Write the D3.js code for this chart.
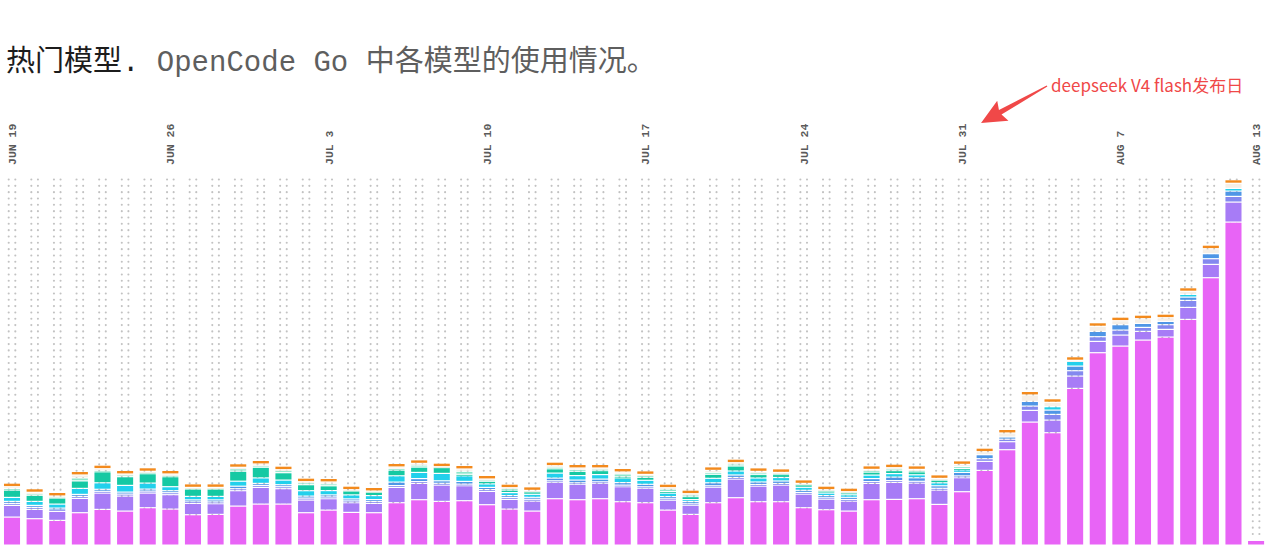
<!DOCTYPE html>
<html>
<head>
<meta charset="utf-8">
<script src="https://cdn.jsdelivr.net/npm/d3@7"></script>
<style>
  html, body { margin: 0; padding: 0; background: #fff; }
  svg { display: block; }
</style>
</head>
<body>
<svg id="chart" width="1280" height="558"></svg>
<script>
// ---------------- DATA ----------------
const dates = [
  "06-19","06-20","06-21","06-22","06-23","06-24","06-25","06-26","06-27","06-28","06-29","06-30",
  "07-01","07-02","07-03","07-04","07-05","07-06","07-07","07-08","07-09","07-10","07-11","07-12",
  "07-13","07-14","07-15","07-16","07-17","07-18","07-19","07-20","07-21","07-22","07-23","07-24",
  "07-25","07-26","07-27","07-28","07-29","07-30","07-31",
  "08-01","08-02","08-03","08-04","08-05","08-06","08-07","08-08","08-09","08-10","08-11","08-12","08-13"
];

const tickDates  = ["06-19","06-26","07-03","07-10","07-17","07-24","07-31","08-07","08-13"];
const tickLabels = ["JUN 19","JUN 26","JUL 3","JUL 10","JUL 17","JUL 24","JUL 31","AUG 7","AUG 13"];

// series values, bottom to top of each stack
const model1 = [26.8,25.2,23.5,31.2,34.5,32.8,36.2,34.8,29.2,29.5,37.8,39.8,39.8,31.2,33.8,31.5,31.2,41.2,44.2,42.5,43.2,39.2,34.8,32.8,45.2,44.2,45.2,42.2,41.2,33.8,29.5,41.2,46.2,42.2,42.2,36.2,34.2,32.8,44.2,44.5,45.2,39.5,52.2,73.5,94.2,121.8,111.2,155.5,191.2,197.8,203.8,206.8,224.5,266.2,321.8,3.5];
const model2 = [11.7,9.3,9,14.3,16.3,15,14.6,14.4,11.3,10.7,15.4,16.7,15.4,12.6,11.4,9.7,9.3,15.3,16.3,16.3,15,13.3,9.7,10,16.3,15.3,15.3,15,14.3,9.7,9,15.3,18.6,15.6,16.6,13.6,10.3,10,16.3,17,15.6,14.3,14,9,8,11.7,12.6,12.3,11.3,11,8.7,7.7,12,13.3,20,0];
const model3 = [2,2,1.8,2,1.8,2,2,2,1.8,1.8,2,2,2,2,1.8,1.8,1.8,1.8,1.8,1.8,1.6,1.8,1.8,1.8,1.6,1.6,1.6,1.6,1.6,1.6,1.6,1.6,1.6,1.6,1.6,1.6,1.6,1.6,1.8,1.8,1.8,1.8,1.8,2.7,2.5,4.3,5.7,5.4,4.7,5,4,4.7,7,5.7,5.7,0];
const model4 = [2,2,1.5,2,2,2,2,2,1.7,2,2.5,2,2,2,2,2,2,3.5,3,2.5,2.7,2.2,2,2,2.7,2.7,2.7,2.5,2.5,2.2,2.2,3,2.5,2.5,2.5,2.2,2.2,2.2,3,3.5,3.5,2.5,3.5,4,2.2,4.7,4.3,4.6,5.3,5.4,4,3.3,3.3,5,5.3,0];
const model5 = [4,4,4,6,6.5,6.7,6,4,3.5,3.5,5,5.5,4.6,5.4,4.3,4,4,6.3,6.2,7.4,5.6,3.5,3,3,5,4.5,4.5,4.5,4,3.5,2,4.5,4,4,3.5,3,2.5,2.5,3.5,3.5,3,3,2.5,0,0,0,3.4,4.7,0,0,0,0,2.7,0,2.7,0];
const model6 = [7.3,6,6,7.5,11,8.7,9.4,10,7.3,7.3,10,10.5,7.4,6,4.8,4,3.5,5.7,5.3,6,1.5,2.5,2.5,2.5,4.3,4.3,4,1.2,3,1.5,3,4,5,3.5,3,2.5,2,2,3,3,3,2.5,1.5,0,0,0,0,0,0,0,0,0,0,0,0,0];
const model7 = [1.5,1.5,1,3,1.5,2,1.5,1.5,1,1,2.5,1.5,2.5,2,2,0.8,0.8,1.7,2,0.6,3,1.5,1.5,1,1.7,1.9,1.6,3,1.7,2.5,1.7,2,2,1.7,1.3,1,1,0.8,1.6,1.7,1.5,1.2,2,0,0,0,0,0,0,0,0,0,0,0,0,0];
const model8 = [1.9,1.6,1.1,2.9,1.6,0.7,0.9,1.2,0.7,0.7,1.4,1.9,0.5,1,1.8,0.4,0.3,1.4,1.7,0.1,2.3,0.9,0.9,0.4,1.4,1.4,1,1.9,1.2,1.4,1.2,1.9,1.3,1.4,0.8,0.4,0.4,0.3,1.1,1.2,0.9,0.7,2,3,4,6.4,4.4,1.1,5.1,4,4.7,3.7,3.1,5,5.1,0];
const model9 = [3.6,3.6,3.6,3.6,3.6,3.6,3.6,3.6,3.6,3.6,3.6,3.6,3.6,3.6,3.6,3.6,3.6,3.6,3.6,3.6,3.6,3.6,3.6,3.6,3.6,3.6,3.6,3.6,3.6,3.6,3.6,3.6,3.6,3.6,3.6,3.6,3.6,3.6,3.6,3.6,3.6,3.6,3.6,3.6,3.6,3.6,3.6,3.6,3.6,3.6,3.6,3.6,3.6,3.6,3.6,0];

const seriesKeys   = ["model1","model2","model3","model4","model5","model6","model7","model8","model9"];
const seriesColors = ["#e864f6","#a77cf6","#8489ef","#4f96e6","#22d0ec","#15c9a3","#8fe6cc","#f6efe7","#f38a1d"];

const titleDark = "热门模型.";
const titleRest = " OpenCode Go 中各模型的使用情况。";
const noteText  = "deepseek V4 flash发布日";
const noteDate  = "07-31";

// --------------- BUILD ---------------
const seriesData = {model1, model2, model3, model4, model5, model6, model7, model8, model9};
const rows = dates.map((d, i) => {
  const r = {date: d};
  seriesKeys.forEach(k => r[k] = seriesData[k][i]);
  return r;
});

const svg = d3.select("#chart");
const baseY = 544.5, topY = 180.3;

const x = d3.scaleBand().domain(dates).range([0.7, 1267.4]).paddingInner(0.29).paddingOuter(0.145);
const stack = d3.stack().keys(seriesKeys);
const layers = stack(rows);
const totals = rows.map(r => d3.sum(seriesKeys, k => r[k]));
const y = d3.scaleLinear().domain([0, d3.max(totals)]).range([baseY, topY]);
const color = d3.scaleOrdinal().domain(seriesKeys).range(seriesColors);

// title
const title = svg.append("text")
  .attr("x", 6).attr("y", 71)
  .attr("font-family", "'Liberation Mono', 'Noto Sans CJK SC', monospace")
  .attr("font-size", 29);
title.append("tspan").attr("fill", "#1c1c1c").text(titleDark);
title.append("tspan").attr("fill", "#5e5e5e").style("white-space", "pre").text(titleRest);

// dotted background columns
const dotG = svg.append("g").attr("fill", "#c2c2c2");
const dotRows = d3.range(179.5, 537, 6.33);
dates.forEach(d => {
  const cx = x(d) + x.bandwidth() / 2;
  dotRows.forEach(dy => {
    dotG.append("circle").attr("cx", cx - 3.3).attr("cy", dy).attr("r", 1.05);
    dotG.append("circle").attr("cx", cx + 3.3).attr("cy", dy).attr("r", 1.05);
  });
});

// bars
const gap = 1.2;
const barG = svg.append("g");
layers.forEach((layer, li) => {
  barG.append("g").attr("fill", color(layer.key))
    .selectAll("rect")
    .data(layer.filter(s => s[1] - s[0] > 0))
    .join("rect")
    .attr("x", s => x(s.data.date))
    .attr("width", x.bandwidth())
    .attr("y", s => y(s[1]))
    .attr("height", s => {
      const h = y(s[0]) - y(s[1]) - (li > 0 ? gap : 0);
      return Math.max(h, 0.8);
    });
});

// date labels (vertical)
const axisG = svg.append("g")
  .attr("font-family", "'Liberation Mono', 'DejaVu Sans Mono', monospace")
  .attr("font-size", 11.5)
  .attr("font-weight", "bold")
  .attr("fill", "#5a5a5a");
tickDates.forEach((d, i) => {
  const cx = x(d) + x.bandwidth() / 2;
  axisG.append("text")
    .attr("transform", `translate(${cx},165) rotate(-90)`)
    .attr("text-anchor", "start")
    .attr("dy", "0.35em")
    .style("white-space", "pre")
    .text(tickLabels[i]);
});

// annotation
const noteCx = x(noteDate) + x.bandwidth() / 2;
const tip = [noteCx + 19, 123];
const tail = [noteCx + 85, 86];
const dx = tail[0] - tip[0], dyy = tail[1] - tip[1];
const len = Math.hypot(dx, dyy);
const ux = dx / len, uy = dyy / len;
const px = -uy, py = ux;
const headLen = 25, headHalf = 11.5;
const base = [tip[0] + ux * headLen, tip[1] + uy * headLen];
const pts = [
  tip,
  [base[0] + px * headHalf, base[1] + py * headHalf],
  [base[0] + px * 2.6 - ux * 3, base[1] + py * 2.6 - uy * 3],
  [tail[0] + px * 0.7, tail[1] + py * 0.7],
  [tail[0] - px * 0.7, tail[1] - py * 0.7],
  [base[0] - px * 2.6 - ux * 3, base[1] - py * 2.6 - uy * 3],
  [base[0] - px * headHalf, base[1] - py * headHalf]
];
svg.append("path")
  .attr("d", d3.line()(pts) + "Z")
  .attr("fill", "#f04848");

svg.append("text")
  .attr("x", noteCx + 89).attr("y", 92)
  .attr("font-family", "'Noto Sans CJK SC', 'Noto Sans', sans-serif")
  .attr("font-size", 17)
  .attr("fill", "#f04848")
  .text(noteText);
</script>
</body>
</html>
